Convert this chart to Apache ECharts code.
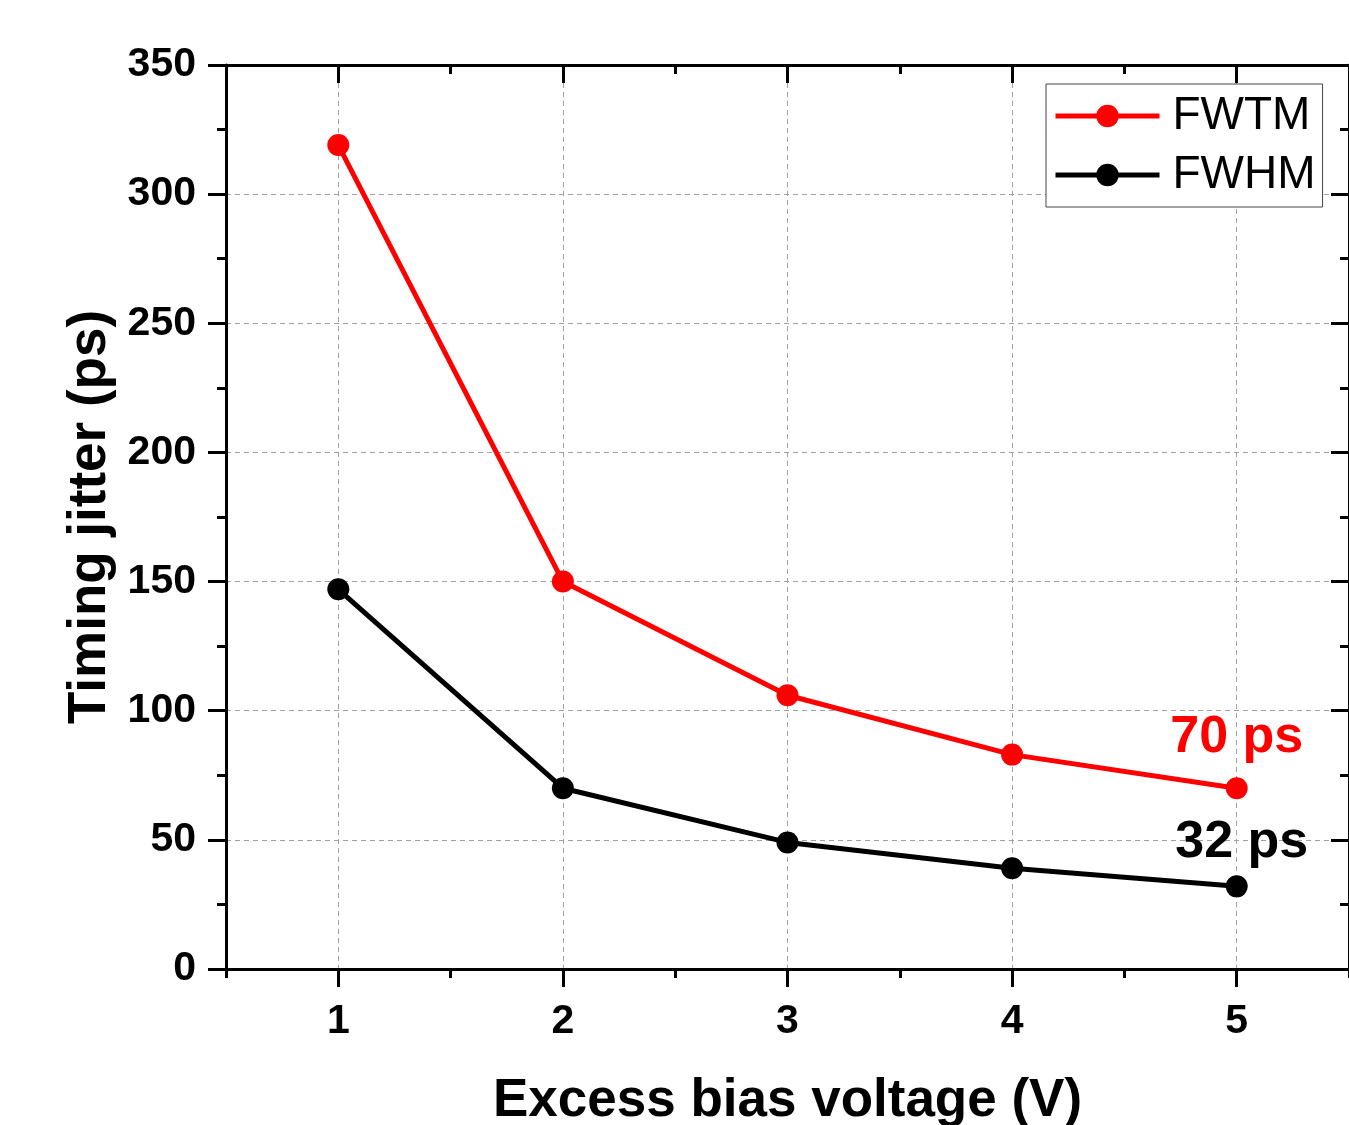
<!DOCTYPE html>
<html>
<head>
<meta charset="utf-8">
<script src="https://cdn.jsdelivr.net/npm/echarts@6/dist/echarts.min.js"></script>
<style>
html,body{margin:0;padding:0;background:#fff;}
#chart{width:1349px;height:1125px;}
</style>
</head>
<body>
<div id="chart"></div>
<script>
const biasVoltage = [1, 2, 3, 4, 5];
const fwtm = [319, 150, 106, 83, 70];
const fwhm = [147, 70, 49, 39, 32];
const xMajorTicks = [1, 2, 3, 4, 5];
const xMinorTicks = [0.5, 1.5, 2.5, 3.5, 4.5, 5.5];
const yTicks = [0, 50, 100, 150, 200, 250, 300, 350];

const FONT = '"Liberation Sans", Arial, sans-serif';
const chart = echarts.init(document.getElementById('chart'));

function buildData(vals, color, dist, offX) {
  return vals.map((v, i) => {
    const item = { value: [biasVoltage[i], v] };
    if (i === vals.length - 1) {
      item.label = {
        show: true, position: 'top', distance: dist, offset: [offX, 0],
        formatter: v + ' ps', color: color, fontSize: 52, fontWeight: 'bold', fontFamily: FONT
      };
    }
    return item;
  });
}

const axisLine = { show: true, onZero: false, lineStyle: { color: '#000', width: 3 } };
const xBase = { type: 'value', min: 0.5, max: 5.5, gridIndex: 0 };

chart.setOption({
  animation: false,
  backgroundColor: '#fff',
  grid: { left: 226, right: 0, top: 65, bottom: 156, containLabel: false, outerBoundsMode: 'none' },
  legend: {
    orient: 'vertical', left: 1046, top: 84,
    padding: [9, 7, 9, 7], itemGap: 13,
    itemWidth: 104, itemHeight: 28,
    backgroundColor: '#fff', borderColor: '#444', borderWidth: 1, borderRadius: 0,
    lineStyle: { width: 5 },
    textStyle: { fontSize: 46, fontFamily: FONT, color: '#000', lineHeight: 46, padding: [0, 0, 0, 8] },
    data: ['FWTM', 'FWHM']
  },
  xAxis: [
    Object.assign({}, xBase, {
      position: 'bottom',
      name: 'Excess bias voltage (V)', nameLocation: 'middle', nameGap: 106,
      nameTextStyle: { fontSize: 53, fontWeight: 'bold', fontFamily: FONT, color: '#000' },
      axisLine: axisLine,
      axisTick: { show: true, inside: false, length: 18, lineStyle: { color: '#000', width: 3 }, customValues: xMajorTicks },
      axisLabel: { show: true, margin: 32, fontSize: 41, fontWeight: 'bold', fontFamily: FONT, color: '#000', customValues: xMajorTicks },
      splitLine: { show: true, lineStyle: { color: '#a0a0a0', width: 1, type: [5, 4] } }
    }),
    Object.assign({}, xBase, {
      position: 'bottom',
      axisLine: { show: false, onZero: false },
      axisTick: { show: true, inside: false, length: 9, lineStyle: { color: '#000', width: 3 }, customValues: xMinorTicks },
      axisLabel: { show: false },
      splitLine: { show: false }
    }),
    Object.assign({}, xBase, {
      position: 'top',
      axisLine: axisLine,
      axisTick: { show: true, inside: true, length: 18, lineStyle: { color: '#000', width: 3 }, customValues: xMajorTicks },
      axisLabel: { show: false },
      splitLine: { show: false }
    }),
    Object.assign({}, xBase, {
      position: 'top',
      axisLine: { show: false, onZero: false },
      axisTick: { show: true, inside: true, length: 9, lineStyle: { color: '#000', width: 3 }, customValues: xMinorTicks },
      axisLabel: { show: false },
      splitLine: { show: false }
    })
  ],
  yAxis: [
    {
      type: 'value', position: 'left', min: yTicks[0], max: yTicks[yTicks.length - 1], interval: 50,
      name: 'Timing jitter (ps)', nameLocation: 'middle', nameGap: 109,
      nameTextStyle: { fontSize: 53, fontWeight: 'bold', fontFamily: FONT, color: '#000' },
      axisLine: axisLine,
      axisTick: { show: true, inside: false, length: 18, lineStyle: { color: '#000', width: 3 } },
      minorTick: { show: true, splitNumber: 2, length: 9, lineStyle: { color: '#000', width: 3 } },
      axisLabel: { show: true, margin: 30, fontSize: 41, fontWeight: 'bold', fontFamily: FONT, color: '#000' },
      splitLine: { show: true, lineStyle: { color: '#a0a0a0', width: 1, type: [5, 4] } }
    },
    {
      type: 'value', position: 'right', min: yTicks[0], max: yTicks[yTicks.length - 1], interval: 50,
      axisLine: axisLine,
      axisTick: { show: true, inside: true, length: 18, lineStyle: { color: '#000', width: 3 } },
      minorTick: { show: true, splitNumber: 2, length: 9, lineStyle: { color: '#000', width: 3 } },
      axisLabel: { show: false },
      splitLine: { show: false }
    }
  ],
  series: [
    {
      name: 'FWTM', type: 'line', xAxisIndex: 0, yAxisIndex: 0,
      symbol: 'circle', symbolSize: 22,
      lineStyle: { color: '#ff0000', width: 5 },
      itemStyle: { color: '#ff0000' },
      data: buildData(fwtm, '#ff0000', 14, 0), z: 3
    },
    {
      name: 'FWHM', type: 'line', xAxisIndex: 0, yAxisIndex: 0,
      symbol: 'circle', symbolSize: 22,
      lineStyle: { color: '#000000', width: 5 },
      itemStyle: { color: '#000000' },
      data: buildData(fwhm, '#000000', 7, 5), z: 3
    }
  ]
});
</script>
</body>
</html>
